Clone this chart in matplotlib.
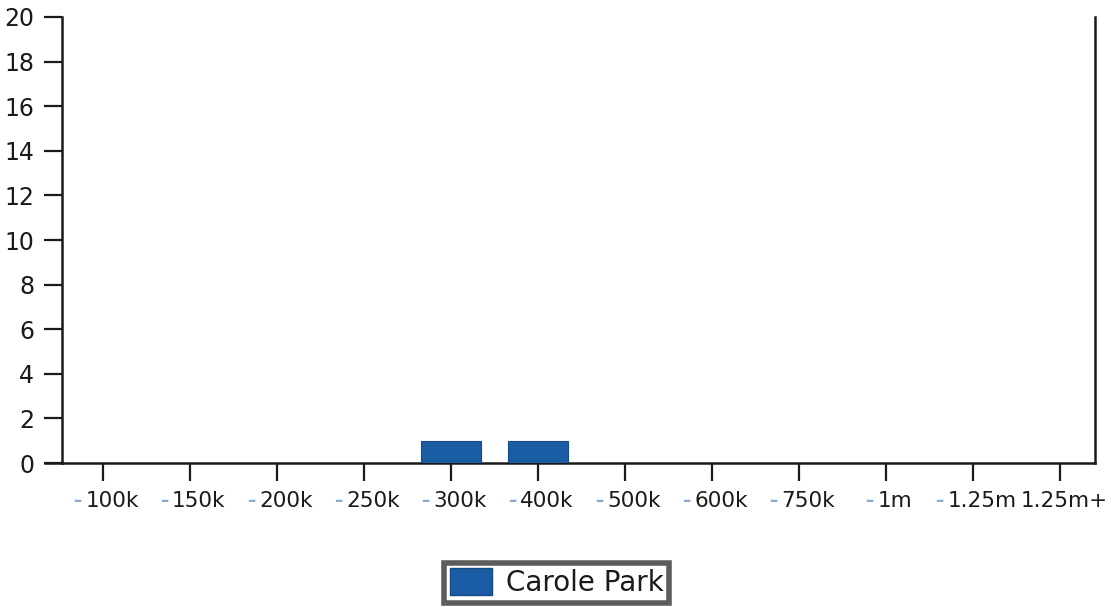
import matplotlib
matplotlib.use("Agg")
import matplotlib.pyplot as plt
import matplotlib.transforms as mtrans
from matplotlib.patches import Patch

categories = ["100k", "150k", "200k", "250k", "300k", "400k", "500k",
              "600k", "750k", "1m", "1.25m", "1.25m+"]
series_name = "Carole Park"
values = [0, 0, 0, 0, 1, 1, 0, 0, 0, 0, 0, 0]
y_ticks = list(range(0, 21, 2))

bar_color = "#1b5da5"
dash_color = "#8aa8d4"
text_color = "#1a1a1a"

fig = plt.figure(figsize=(11.11, 6.07), dpi=100)
ax = fig.add_axes([0.0558, 0.2372, 0.9298, 0.7348])

x = list(range(len(categories)))
ax.bar(x, values, width=0.69, color=bar_color, edgecolor="#164a85", linewidth=0.8, zorder=3)

ax.set_xlim(-0.47, 11.4)
ax.set_ylim(0, 20)
ax.set_yticks(y_ticks)
ax.set_yticklabels([str(v) for v in y_ticks], fontsize=17, color=text_color)
ax.set_xticks(x)
ax.set_xticklabels(categories, fontsize=15.5, color=text_color)

for s in ["left", "bottom", "right"]:
    ax.spines[s].set_linewidth(1.8)
    ax.spines[s].set_color("#1a1a1a")
ax.spines["top"].set_visible(False)

ax.tick_params(axis="y", direction="out", length=13, width=1.6, pad=7, color="#1a1a1a")
ax.tick_params(axis="x", direction="out", length=13, width=1.6, pad=7, color="#1a1a1a")

# shift x labels right (they include a leading dash in the original)
labels = ax.get_xticklabels()
for i, lbl in enumerate(labels):
    dx = 9 if i < len(labels) - 1 else 4
    off = mtrans.ScaledTranslation(dx / 100, 0, fig.dpi_scale_trans)
    lbl.set_transform(lbl.get_transform() + off)

# extend bottom axis line left to the 0 tick
ax.plot([-0.47 - 17 / 87, -0.47], [0, 0], color="#1a1a1a", lw=1.8, clip_on=False, zorder=4)

fig.canvas.draw()
# light-blue separator dashes (the last one is hidden by the overlapping labels in the original)
for lbl in ax.get_xticklabels()[:-1]:
    ax.annotate("\u2013", xy=(0, 0.5), xycoords=lbl, xytext=(-3, 0),
                textcoords="offset points", ha="right", va="center",
                fontsize=12, color=dash_color, fontweight="bold")

handle = Patch(facecolor=bar_color, edgecolor="#164a85")
leg = fig.legend([handle], [series_name], loc="center", bbox_to_anchor=(0.501, 0.04),
                 fontsize=20, frameon=True, fancybox=False, handlelength=1.5,
                 handleheight=1.1, borderpad=0.2, borderaxespad=0, handletextpad=0.5,
                 labelcolor=text_color)
frame = leg.get_frame()
frame.set_edgecolor("#333333")
frame.set_linewidth(4)

fig.savefig("out.png", dpi=100)
